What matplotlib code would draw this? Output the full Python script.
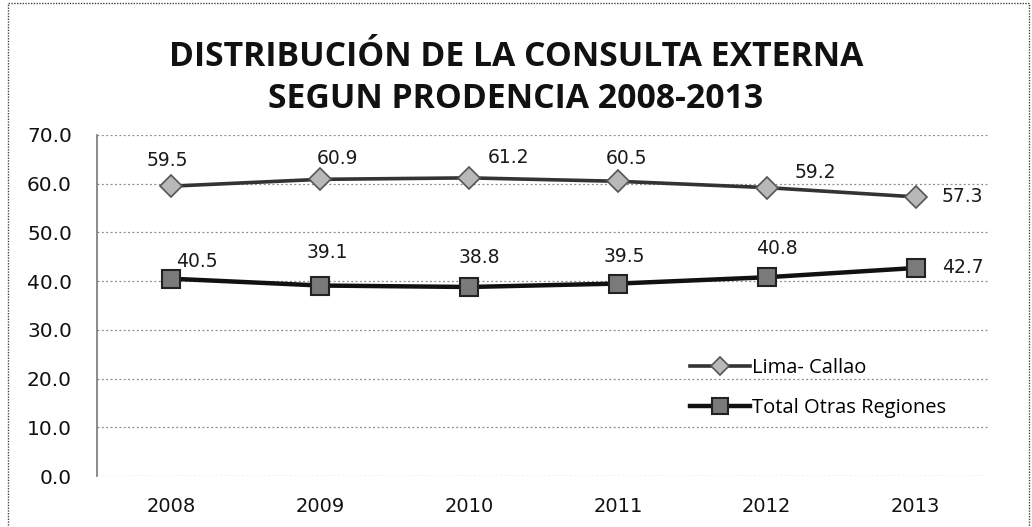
import matplotlib
matplotlib.use("Agg")
import matplotlib.pyplot as plt
from matplotlib.patches import Rectangle

years = ["2008", "2009", "2010", "2011", "2012", "2013"]
lima_callao = [59.5, 60.9, 61.2, 60.5, 59.2, 57.3]
otras_regiones = [40.5, 39.1, 38.8, 39.5, 40.8, 42.7]
series_names = ["Lima- Callao", "Total Otras Regiones"]
title_text = "DISTRIBUCIÓN DE LA CONSULTA EXTERNA\nSEGUN PRODENCIA 2008-2013"
yticks = [0, 10, 20, 30, 40, 50, 60, 70]

# label offsets in pixels (style only)
lima_off = [(-4, 26), (17, 21), (39, 20), (9, 23), (49, 15), (47, 0)]
otras_off = [(25, 17), (7, 33), (10, 29), (6, 27), (10, 29), (47, 0)]

W, H = 1032, 527
fig = plt.figure(figsize=(W / 100, H / 100), dpi=100)
ax = fig.add_axes([97 / W, (H - 476) / H, (990 - 97) / W, (476 - 135) / H])

x = list(range(len(years)))
ax.plot(x, lima_callao, color="#333333", lw=2.6, marker="D", markersize=11,
        markerfacecolor="#b8b8b8", markeredgecolor="#555555", markeredgewidth=1.2,
        label=series_names[0], zorder=3)
ax.plot(x, otras_regiones, color="#111111", lw=3.2, marker="s", markersize=13,
        markerfacecolor="#7a7a7a", markeredgecolor="#222222", markeredgewidth=1.5,
        label=series_names[1], zorder=3)

for i, v in enumerate(lima_callao):
    ax.annotate(f"{v:.1f}", (i, v), xytext=lima_off[i], textcoords="offset pixels",
                ha="center", va="center", fontsize=13.5, family="DejaVu Sans", color="#1a1a1a")
for i, v in enumerate(otras_regiones):
    ax.annotate(f"{v:.1f}", (i, v), xytext=otras_off[i], textcoords="offset pixels",
                ha="center", va="center", fontsize=13.5, family="DejaVu Sans", color="#1a1a1a")

ax.set_xlim(-0.5, len(years) - 0.5)
ax.set_ylim(0, 70)
ax.set_yticks(yticks)
ax.set_yticklabels([f"{t:.1f}" for t in yticks])
ax.set_xticks(x)
ax.set_xticklabels(years)
ax.tick_params(axis="y", length=0, pad=18, labelsize=14.5, colors="#111111")
ax.tick_params(axis="x", length=0, pad=15, labelsize=14, colors="#111111")
for lab in ax.get_xticklabels() + ax.get_yticklabels():
    lab.set_family("DejaVu Sans")

ax.grid(axis="y", linestyle=(0, (1.5, 2)), color="#8a8a8a", lw=0.9, zorder=0)
ax.set_axisbelow(True)
for s in ["top", "right", "bottom"]:
    ax.spines[s].set_visible(False)
ax.spines["left"].set_color("#777777")
ax.spines["left"].set_linewidth(1.2)

leg = ax.legend(loc="center left", bbox_to_anchor=(680 / W, (H - 388) / H),
                bbox_transform=fig.transFigure, frameon=False,
                prop={"family": "Open Sans", "size": 14.5}, handlelength=3.0,
                handletextpad=0.1, labelspacing=0.95, borderpad=0, markerscale=0.85)

fig.text(516 / W, 1 - 78 / H, title_text, ha="center", va="center",
         fontsize=24.3, fontweight="bold", family="Open Sans", color="#111111",
         linespacing=1.33)

fig.patches.append(Rectangle((8 / W, -0.01), (1029 - 8) / W, (H - 3) / H + 0.01,
                             transform=fig.transFigure, fill=False,
                             edgecolor="#444444", lw=1.0, linestyle=(0, (1, 1))))

fig.savefig("out.png", dpi=100)
